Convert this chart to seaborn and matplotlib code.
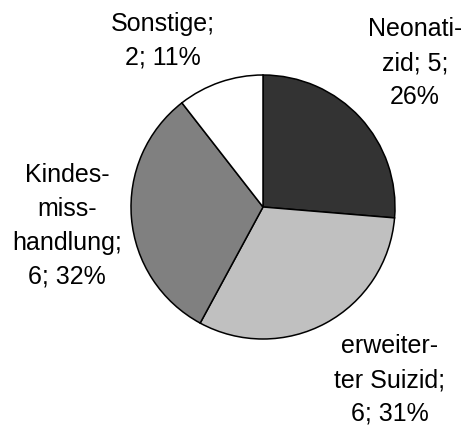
import matplotlib.pyplot as plt
import numpy as np
import seaborn as sns

# Data
categories = ["Neonati-\nzid", "erweiter-\nter Suizid", "Kindes-\nmiss-\nhandlung", "Sonstige"]
counts = [5, 6, 6, 2]
percent_labels = ["26%", "31%", "32%", "11%"]
colors = ["#333333", "#c0c0c0", "#808080", "#ffffff"]

sns.set_theme(style="white")
plt.rcParams["font.family"] = ["Liberation Sans", "DejaVu Sans"]

fig = plt.figure(figsize=(4.61, 4.27), dpi=100)
ax = fig.add_axes([0, 0, 1, 1])

wedges, _ = ax.pie(
    counts,
    colors=colors,
    startangle=90,
    counterclock=False,
    radius=1,
    wedgeprops=dict(edgecolor="black", linewidth=1.1),
)

# label placement: distance from centre and small angle nudge per slice
label_dist = [1.59, 1.62, 1.49, 1.48]
label_shift = [1, 8, 0.5, 12]
for i, w in enumerate(wedges):
    ang = np.deg2rad((w.theta1 + w.theta2) / 2 + label_shift[i])
    name = categories[i]
    if i == 0:
        text = f"{name}; {counts[i]};\n{percent_labels[i]}"
    else:
        text = f"{name};\n{counts[i]}; {percent_labels[i]}"
    ax.text(label_dist[i] * np.cos(ang), label_dist[i] * np.sin(ang), text,
            ha="center", va="center", fontsize=18, linespacing=1.52, color="black")

ax.set_xlim(-263 / 132, (461 - 263) / 132)
ax.set_ylim(-(427 - 208) / 132, 208 / 132)
ax.set_aspect("equal")
ax.axis("off")

fig.savefig("out.png", dpi=100)
